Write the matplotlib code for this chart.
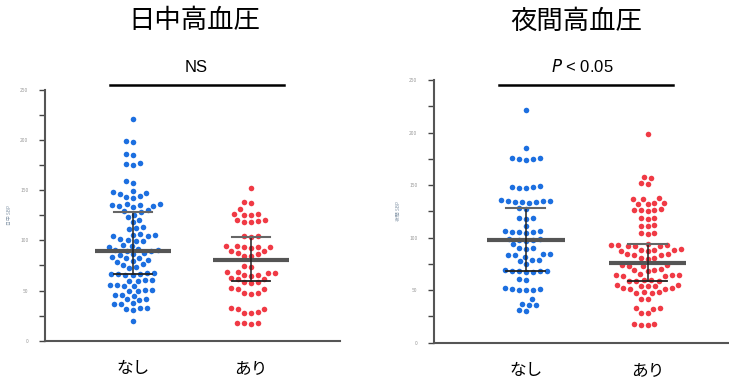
import numpy as np
import matplotlib
matplotlib.use("Agg")
import matplotlib.pyplot as plt

plt.rcParams['font.family'] = ['Noto Sans CJK JP', 'DejaVu Sans']

titles = ["日中高血圧", "夜間高血圧"]
stats_text = ["NS", "$\\it{P}$ < 0.05"]
groups = ["なし", "あり"]
ylabels = ["日中 SBP", "夜間 SBP"]

day_none = [221, 199, 198, 186, 185, 177, 176, 175, 159, 157, 149, 148, 147, 146, 144, 143,
            142, 136, 136, 135, 135, 134, 134, 133, 130, 129, 128, 125, 123, 120, 118, 113,
            112, 111, 106, 105, 105, 104, 104, 101, 100, 99, 99, 95, 94, 93, 91, 90, 90, 89,
            89, 87, 86, 85, 83, 82, 82, 80, 79, 78, 76, 75, 73, 72, 68, 68, 67, 67, 67, 66,
            66, 61, 61, 60, 60, 56, 56, 55, 55, 51, 51, 50, 50, 46, 46, 45, 42, 42, 41, 38,
            37, 37, 33, 33, 32, 31, 20]
day_yes = [152, 138, 137, 131, 126, 126, 125, 125, 120, 120, 119, 118, 118, 104, 104, 103,
           94, 94, 93, 93, 93, 92, 89, 89, 87, 86, 84, 84, 74, 73, 69, 69, 68, 68, 66, 66,
           65, 63, 62, 62, 59, 59, 58, 53, 52, 52, 48, 48, 47, 33, 32, 32, 29, 28, 28, 18,
           18, 18, 17]
night_none = [221, 185, 176, 176, 175, 175, 174, 149, 148, 148, 147, 147, 136, 135, 135, 135,
              134, 134, 134, 133, 128, 127, 119, 119, 118, 111, 106, 106, 105, 105, 105, 104,
              99, 99, 98, 98, 97, 94, 90, 90, 89, 84, 84, 83, 83, 82, 79, 79, 78, 75, 69, 68,
              68, 68, 68, 67, 67, 61, 60, 52, 51, 51, 50, 50, 50, 42, 37, 36, 36, 31, 30]
night_yes = [199, 158, 157, 152, 151, 138, 137, 137, 133, 133, 132, 132, 127, 126, 126, 126,
             125, 119, 119, 118, 112, 111, 111, 104, 104, 103, 94, 93, 93, 93, 92, 92, 92, 89,
             88, 88, 88, 87, 87, 84, 84, 83, 83, 81, 81, 80, 74, 74, 73, 73, 70, 69, 69, 68,
             65, 64, 64, 64, 63, 63, 60, 60, 59, 59, 59, 55, 55, 54, 54, 54, 52, 52, 51, 51,
             48, 48, 47, 47, 42, 42, 33, 33, 32, 28, 28, 18, 18, 17, 17]

# center line, lower and upper bar
day_center = [89, 80.7]
day_low = [67, 59.7]
day_high = [128, 103.4]
night_center = [98, 76]
night_low = [68.2, 58.7]
night_high = [128.5, 93.6]

colors = ["#1c6fe0", "#f03a45"]


def swarm(vals, d, ys):
    vals = np.asarray(vals, float)
    offs = np.zeros(len(vals))
    placed = []
    for i in np.argsort(vals):
        y = vals[i] * ys
        cands = [0.0]
        for px, py in placed:
            dy = y - py
            if abs(dy) < d:
                dx = np.sqrt(d * d - dy * dy)
                cands += [px - dx, px + dx]
        for c in sorted(cands, key=abs):
            if all((c - px) ** 2 + (y - py) ** 2 >= d * d - 1e-6 for px, py in placed):
                offs[i] = c
                placed.append((c, y))
                break
    return offs


W, H = 729, 383
fig = plt.figure(figsize=(W / 100, H / 100), dpi=100)

panels = [
    dict(rect=(45, 90, 295, 250.7), data=[day_none, day_yes],
         c=day_center, lo=day_low, hi=day_high, xl=(0.254, 2.754)),
    dict(rect=(434, 80, 304, 262.7), data=[night_none, night_yes],
         c=night_center, lo=night_low, hi=night_high, xl=(0.244, 2.744)),
]

for k, p in enumerate(panels):
    x0, top, w, h = p["rect"]
    ax = fig.add_axes([x0 / W, 1 - (top + h) / H, w / W, h / H])
    xpx = w / (p["xl"][1] - p["xl"][0])
    ypx = h / 250
    for j, vals in enumerate(p["data"]):
        offs = swarm(vals, 7.0, ypx) / xpx
        ax.scatter(j + 1 + offs, vals, s=16, color=colors[j], lw=0, zorder=2)
        cx = j + 1
        ax.plot([cx - 0.32, cx + 0.32], [p["c"][j]] * 2, color="#555555", lw=3, zorder=3,
                solid_capstyle="butt")
        ax.plot([cx, cx], [p["lo"][j], p["hi"][j]], color="#222222", lw=1.1, zorder=3)
        ax.plot([cx - 0.16, cx + 0.16], [p["hi"][j]] * 2, color="#666666", lw=1.5, zorder=3)
        ax.plot([cx - 0.16, cx + 0.16], [p["lo"][j]] * 2, color="#222222", lw=1.3, zorder=3)
    ax.set_xlim(*p["xl"])
    ax.set_ylim(0, 250)
    ax.set_yticks(np.arange(0, 251, 50))
    ax.set_yticks(np.arange(25, 250, 50), minor=True)
    ax.tick_params(axis="y", which="both", length=4, width=1, color="#444444",
                   labelsize=3.5, labelcolor="#999999", pad=8)
    ax.set_xticks([1, 2])
    ax.set_xticklabels(groups, fontsize=12)
    ax.tick_params(axis="x", length=0, pad=14)
    for s in ["top", "right"]:
        ax.spines[s].set_visible(False)
    for s in ["left", "bottom"]:
        ax.spines[s].set_color("#555555")
        ax.spines[s].set_linewidth(1.5)
    ax.set_ylabel(ylabels[k], fontsize=3.5, color="#8899aa", labelpad=6)
    ax.patch.set_alpha(0)

# titles, stats text and bracket lines
title_x = [194, 576]
stat_x = [196, 582]
line_x = [(110, 284), (499, 673)]
for k in range(2):
    fig.text(title_x[k] / W, 1 - 21 / H, titles[k], fontsize=19, ha="center", va="center")
    fig.text(stat_x[k] / W, 1 - 67 / H, stats_text[k], fontsize=12, ha="center", va="center",
             family=["Liberation Sans", "DejaVu Sans"])
    fig.add_artist(plt.Line2D([line_x[k][0] / W, line_x[k][1] / W], [1 - 85 / H] * 2,
                              color="black", lw=1.8))

fig.savefig("out.png", dpi=100)
